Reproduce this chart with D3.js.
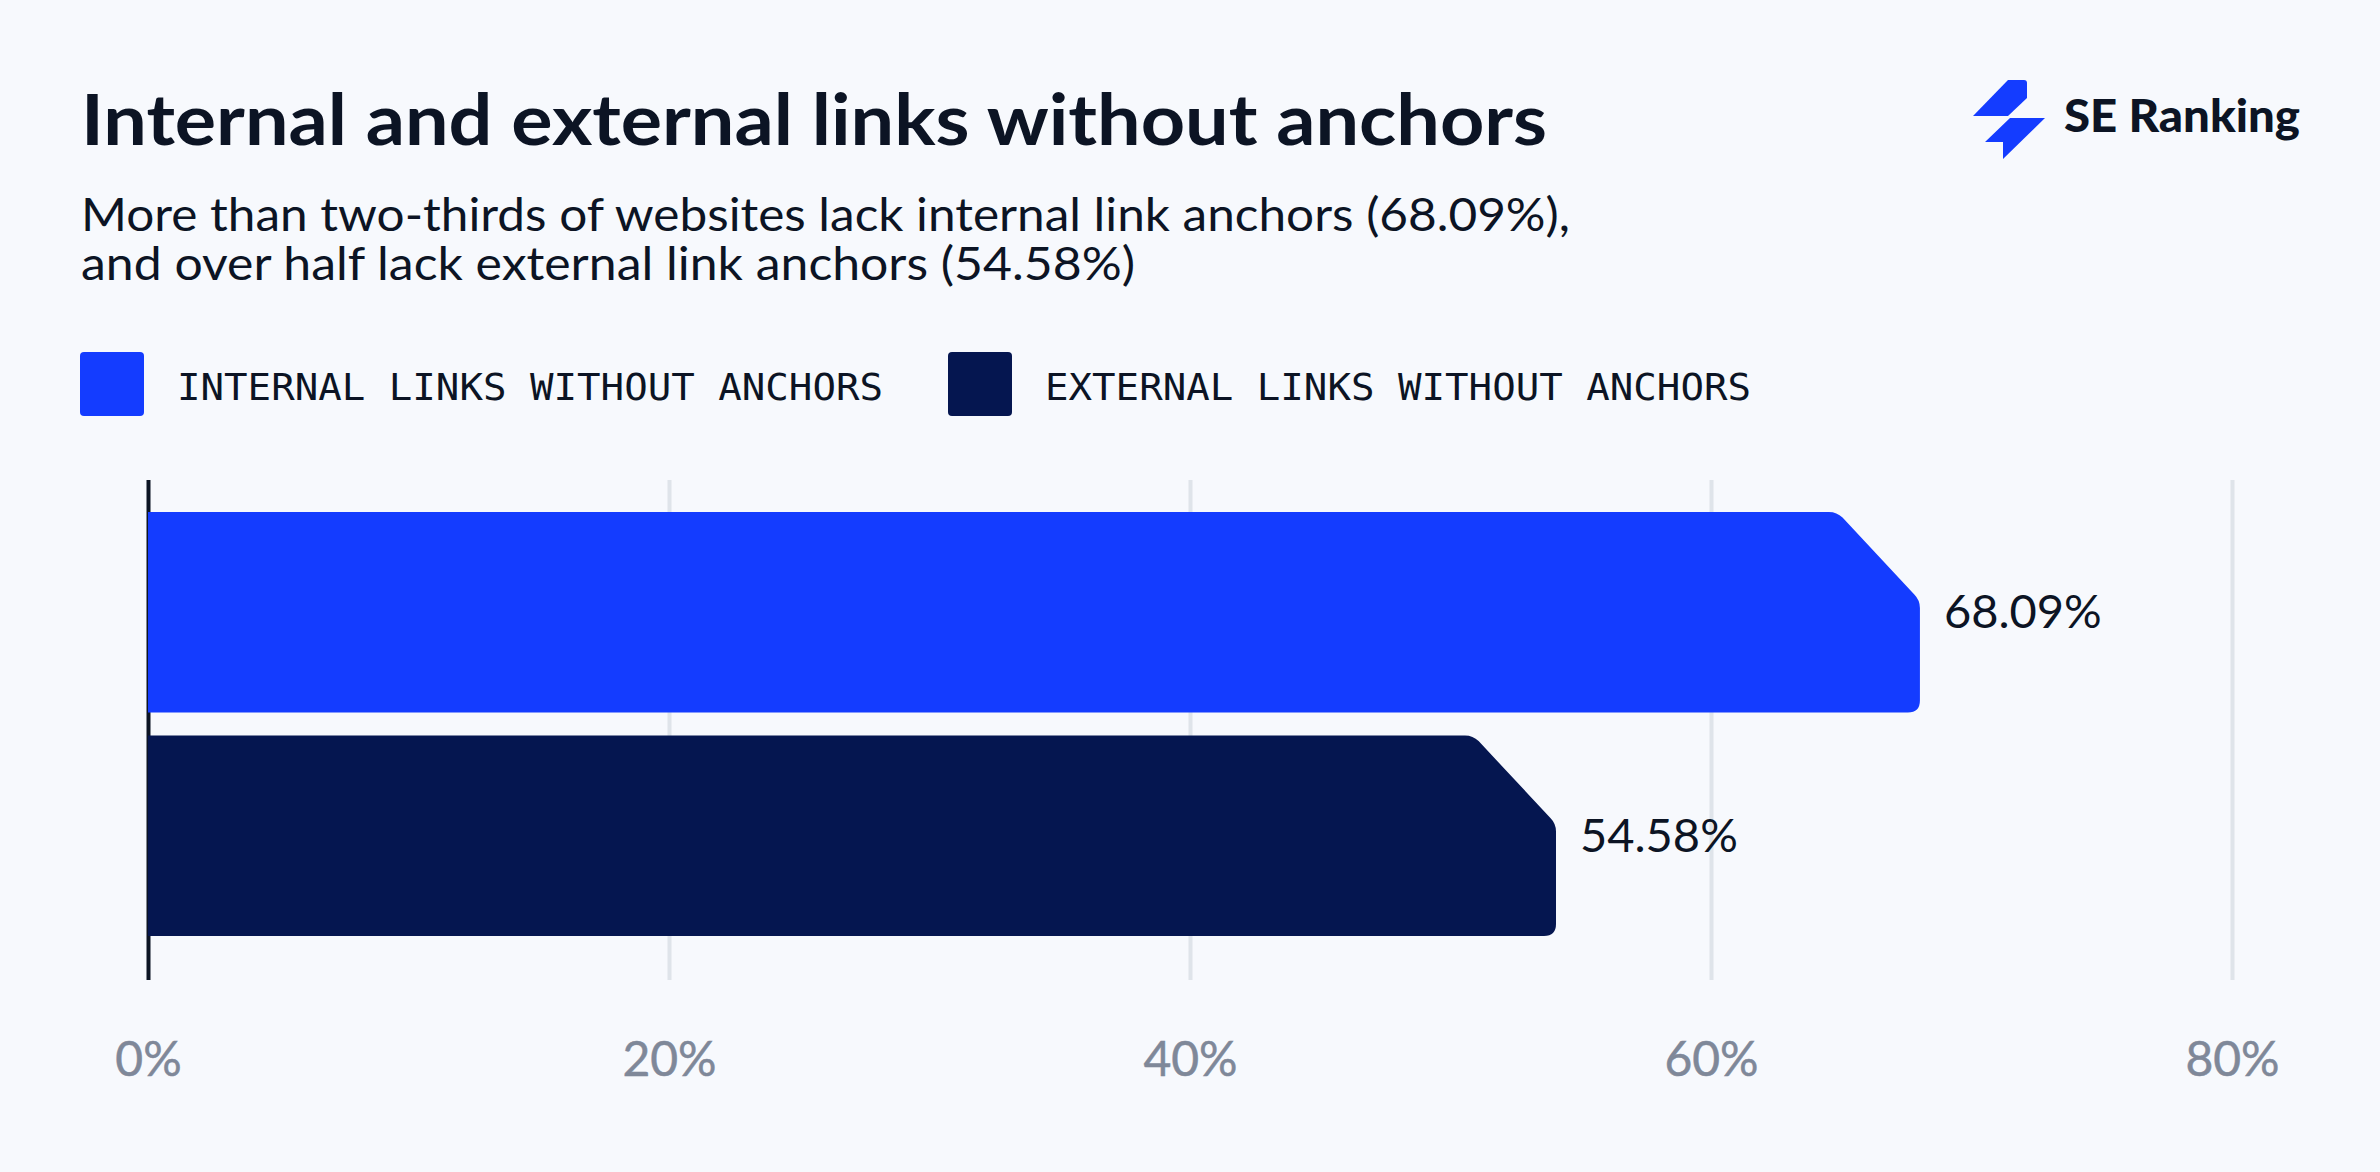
<!DOCTYPE html>
<html>
<head>
<meta charset="utf-8">
<script src="https://cdn.jsdelivr.net/npm/d3@7"></script>
<style>
  html, body { margin: 0; padding: 0; background: #f7f9fd; }
  svg { display: block; }
  text { font-family: Lato, sans-serif; fill: #0c1424; }
</style>
</head>
<body>
<svg id="chart" width="2380" height="1172"></svg>
<script>
// Chart values
var categories = ["Internal links without anchors", "External links without anchors"];
var barLengths = [68.02, 54.05];   // where the bars actually end on the axis
var barLabels = ["68.09%", "54.58%"];
var barColors = ["#143cff", "#051650"];
var tickValues = [0, 20, 40, 60, 80];
var legendLabels = ["INTERNAL LINKS WITHOUT ANCHORS", "EXTERNAL LINKS WITHOUT ANCHORS"];

var svg = d3.select("#chart");
svg.append("rect").attr("width", 2380).attr("height", 1172).attr("fill", "#f7f9fd");

var x = d3.scaleLinear().domain([0, 80]).range([148, 2232]);
var y = d3.scaleBand().domain(categories).range([512, 936]).paddingInner(0.103);

// Title and subtitle
svg.append("text").attr("x", 81).attr("y", 145)
  .attr("font-size", 70).attr("font-weight", 700)
  .attr("textLength", 1466).attr("lengthAdjust", "spacingAndGlyphs")
  .text("Internal and external links without anchors");
svg.append("text").attr("x", 81).attr("y", 231)
  .attr("font-size", 46)
  .attr("textLength", 1489).attr("lengthAdjust", "spacingAndGlyphs")
  .text("More than two-thirds of websites lack internal link anchors (68.09%),");
svg.append("text").attr("x", 81).attr("y", 280)
  .attr("font-size", 46)
  .attr("textLength", 1054).attr("lengthAdjust", "spacingAndGlyphs")
  .text("and over half lack external link anchors (54.58%)");

// Logo
var logo = svg.append("g").attr("fill", "#143cff");
logo.append("path").attr("d", "M2008,80 L2024,80 Q2027,80 2027,83 L2027,98 L2008,116 L1973,116 Z");
logo.append("path").attr("d", "M2010,118 L2045,118 L2003,159 L2003,142 L1985,142 Z");
svg.append("text").attr("x", 2064).attr("y", 132)
  .attr("font-size", 46).attr("font-weight", 900)
  .attr("textLength", 236).attr("lengthAdjust", "spacingAndGlyphs")
  .text("SE Ranking");

// Legend
var legendX = [80, 948];
legendLabels.forEach(function (label, i) {
  svg.append("rect").attr("x", legendX[i]).attr("y", 352)
    .attr("width", 64).attr("height", 64).attr("rx", 4)
    .attr("fill", barColors[i]);
  svg.append("text").attr("x", legendX[i] + 97).attr("y", 400)
    .attr("font-size", 38).style("font-family", "'DejaVu Sans Mono', monospace")
    .attr("textLength", 706).attr("lengthAdjust", "spacingAndGlyphs")
    .text(label);
});

// Axis with gridlines
var axis = d3.axisBottom(x)
  .tickValues(tickValues)
  .tickSize(500)
  .tickFormat(function (d) { return d + "%"; });

var axisG = svg.append("g").attr("transform", "translate(0,480)").call(axis);
axisG.select(".domain").remove();
axisG.selectAll(".tick line")
  .attr("stroke", function (d) { return d === 0 ? "#0c1424" : "#dfe4ea"; })
  .attr("stroke-width", 4);
axisG.selectAll(".tick text")
  .attr("y", 596).attr("dy", 0)
  .attr("font-size", 48)
  .style("font-family", "Lato, sans-serif")
  .style("fill", "#7f8899")
  .style("stroke", "#7f8899")
  .style("stroke-width", 0.5);

// Bars with a cut top-right corner
function barPath(value, top, height) {
  var left = x(0), right = x(value), bottom = top + height;
  var cutX = 83, cutY = 88, r = 8, r2 = 12;
  return [
    "M", left, top,
    "L", right - cutX - r, top,
    "Q", right - cutX, top, right - cutX + r * 0.7, top + r * 0.7,
    "L", right - r * 0.7, top + cutY - r * 0.7,
    "Q", right, top + cutY, right, top + cutY + r,
    "L", right, bottom - r2,
    "Q", right, bottom, right - r2, bottom,
    "L", left, bottom,
    "Z"
  ].join(" ");
}

svg.selectAll(".bar")
  .data(categories)
  .enter().append("path")
  .attr("class", "bar")
  .attr("fill", function (d, i) { return barColors[i]; })
  .attr("d", function (d, i) { return barPath(barLengths[i], y(d), y.bandwidth()); });

svg.selectAll(".bar-label")
  .data(categories)
  .enter().append("text")
  .attr("class", "bar-label")
  .attr("x", function (d, i) { return x(barLengths[i]) + 24; })
  .attr("y", function (d) { return y(d) + y.bandwidth() / 2 + 16; })
  .attr("font-size", 47)
  .text(function (d, i) { return barLabels[i]; });
</script>
</body>
</html>
